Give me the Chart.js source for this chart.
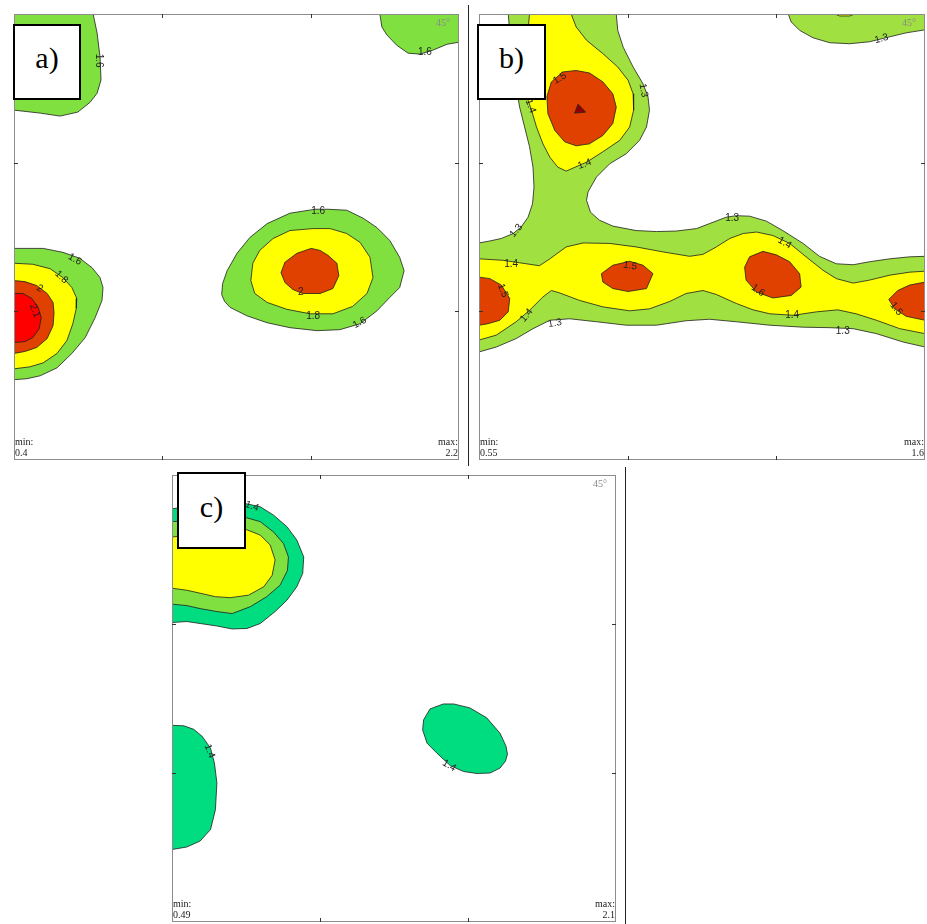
<!DOCTYPE html>
<html>
<head>
<meta charset="utf-8">
<script src="https://cdn.jsdelivr.net/npm/chart.js@4.4.0/dist/chart.umd.min.js"></script>
<style>
  body { margin: 0; background: #fff; }
  #wrap { position: relative; width: 927px; height: 924px; overflow: hidden; }
  canvas { position: absolute; }
  .tag { position: absolute; box-sizing: border-box; border: 2px solid #000; background: #fff;
         font-family: "Liberation Serif", "DejaVu Serif", serif; font-size: 30px; color: #000;
         display: flex; align-items: center; justify-content: center; padding-bottom: 8px; }
  .sep { position: absolute; background: #222; width: 1px; }
</style>
</head>
<body>
<div id="wrap">
  <canvas id="pa" width="469" height="462" style="left:0;top:0"></canvas>
  <canvas id="pb" width="457" height="462" style="left:470px;top:0"></canvas>
  <canvas id="pc" width="466" height="462" style="left:160px;top:462px"></canvas>
  <div class="sep" style="left:468px;top:5px;height:461px"></div>
  <div class="sep" style="left:625px;top:467px;height:457px"></div>
  <div class="tag" style="left:13px;top:24px;width:68px;height:76px">a)</div>
  <div class="tag" style="left:477px;top:24px;width:69px;height:76px">b)</div>
  <div class="tag" style="left:177px;top:472px;width:69px;height:77px">c)</div>
</div>
<script>
// ODF section, phi2 = 45 deg; x = phi1 (0..90), y = Phi (0..90, downwards)
const axisTicks = [30, 60];

// ---- panel a (min 0.4, max 2.2) ----
const aTopLeft16 = [[0,0],[16.0,0],[16.8,3.8],[17.4,8.7],[17.6,13.3],[16.8,16.0],[15.4,17.8],[12.9,19.8],[9.3,20.6],[5.3,20.0],[0,19.4]];
const aTopRight16 = [[74.0,0],[74.4,2.6],[75.4,4.2],[77.4,6.3],[79.7,7.9],[82.1,8.1],[84.7,7.3],[87.6,6.1],[90,5.7],[90,0]];
const aLeft16 = [[0,47.3],[5.9,47.3],[9.9,48.1],[13.3,49.3],[15.8,51.2],[17.4,53.2],[18.0,55.2],[17.8,57.8],[16.4,61.3],[14.4,65.3],[11.7,68.5],[8.7,71.4],[5.3,73.0],[2.6,73.6],[0,73.8]];
const aLeft18 = [[0,50.3],[3.8,50.5],[7.3,51.4],[9.9,53.2],[11.7,55.2],[12.7,57.4],[12.6,59.4],[11.9,62.5],[10.7,65.9],[8.7,68.5],[5.9,70.4],[3.2,71.2],[0,71.6]];
const aLeft20 = [[0,53.8],[2.2,54.0],[4.6,54.8],[6.7,56.4],[7.9,58.2],[8.1,60.3],[7.9,62.9],[6.7,65.5],[4.6,67.3],[2.2,68.1],[0,68.5]];
const aLeft21 = [[0,56.4],[1.8,56.4],[3.6,57.4],[4.9,59.2],[5.5,61.3],[5.1,63.5],[3.8,65.3],[2.2,66.1],[0,66.3]];
const aMid16 = [[60.9,39.4],[55.8,40.2],[51.2,42.3],[47.7,45.1],[45.1,48.3],[43.1,51.8],[42.2,54.4],[42.0,56.6],[42.6,58.0],[43.7,59.2],[47.1,60.9],[51.2,62.3],[55.8,63.3],[61.3,63.9],[65.9,63.7],[70.0,62.5],[73.4,59.9],[76.0,57.2],[78.0,55.2],[78.9,51.8],[78.0,49.1],[76.0,45.7],[73.4,43.1],[70.6,41.2],[67.3,39.6],[63.5,39.4]];
const aMid18 = [[60.5,43.3],[55.8,43.7],[52.4,45.3],[49.7,47.7],[48.3,50.3],[47.9,53.8],[48.7,56.4],[51.2,58.2],[55.2,59.6],[59.9,60.5],[64.5,60.5],[68.5,59.0],[71.4,56.4],[72.6,53.2],[72.0,49.1],[70.0,46.1],[67.3,44.3],[63.9,43.3]];
const aMid20 = [[60.1,47.3],[57.2,48.3],[54.8,50.1],[54.0,52.2],[54.8,54.2],[56.4,55.6],[58.4,56.4],[61.9,56.4],[64.5,55.4],[65.7,52.8],[65.3,50.3],[63.5,48.7],[61.9,47.7]];
const aLabels = [["1.6",17.1,9.4,90],["1.6",83.1,7.8,0],["1.6",61.5,39.9,0],["1.6",69.9,62.3,-30],["1.8",60.5,60.9,0],["2",58.0,56.2,0],["1.6",12.3,49.5,30],["1.8",9.6,53.1,45],["2",5.2,55.4,30],["2.1",4.2,59.9,70]];

// ---- panel b (min 0.55, max 1.6) ----
const bMain13 = [[27.7,0],[28.0,3.3],[29.1,6.7],[31.1,10.7],[33.1,14.1],[34.1,16.7],[34.4,19.4],[33.8,22.8],[32.4,25.5],[29.7,28.2],[26.4,30.2],[23.7,32.9],[22.0,35.9],[21.7,37.6],[22.5,40.0],[24.3,41.6],[27.0,42.8],[31.7,43.7],[35.8,43.9],[39.8,43.8],[43.9,43.3],[46.5,42.3],[49.9,41.0],[51.9,40.7],[54.6,40.8],[58.0,41.8],[61.3,43.7],[65.4,46.3],[68.7,48.9],[72.1,50.4],[75.5,50.6],[78.8,50.0],[82.9,49.4],[86.9,49.0],[90,48.9],[90,67.2],[85.6,66.2],[80.2,64.5],[75.5,63.5],[70.8,63.3],[65.4,63.2],[58.7,62.8],[51.9,62.1],[46.5,61.6],[41.8,61.9],[35.8,62.8],[29.7,62.8],[23.7,62.1],[18.3,61.5],[14.3,61.8],[10.9,63.5],[7.5,65.5],[3.5,67.2],[0,68.2],[0,46.2],[2.2,45.8],[4.5,45.3],[6.9,44.3],[8.5,43.0],[9.9,41.0],[10.8,38.3],[11.1,34.9],[10.9,30.9],[10.2,26.8],[9.2,22.8],[8.2,18.8],[7.5,14.7],[6.5,7.3],[5.9,0]];
const bArm14 = [[18.6,0],[19.6,2.6],[21.7,5.3],[25.0,8.0],[28.0,10.7],[30.1,13.4],[31.1,16.1],[31.2,19.4],[30.4,22.8],[28.4,25.5],[25.0,27.8],[21.7,29.9],[17.6,31.7],[15.9,30.9],[14.3,28.9],[12.9,26.2],[11.6,22.8],[10.6,19.4],[9.9,17.4],[9.2,10.7],[10.2,0]];
const bArm15 = [[19.6,11.4],[16.9,11.7],[14.6,13.7],[13.7,16.7],[13.9,20.1],[15.3,23.5],[17.3,25.8],[19.6,26.6],[22.3,26.2],[25.0,24.5],[27.0,22.1],[27.7,18.8],[27.0,16.1],[25.0,13.7],[22.3,11.9]];
const bArmPeak = [[20.0,18.2],[19.3,20.0],[21.5,19.8]];
const bBand14 = [[0,49.4],[4.8,49.7],[8.2,50.2],[12.2,50.8],[14.3,49.4],[17.6,47.0],[21.0,46.2],[26.4,46.3],[31.7,47.0],[37.1,48.0],[42.5,48.9],[45.2,48.5],[47.9,47.0],[50.6,45.3],[53.3,44.3],[56.0,44.0],[59.3,44.7],[62.7,46.3],[66.0,49.0],[69.4,51.7],[72.1,53.4],[75.5,54.3],[78.8,53.7],[82.9,52.7],[86.9,52.1],[90,51.9],[90,64.5],[84.9,63.5],[80.2,61.8],[76.1,60.5],[72.4,59.7],[68.1,60.1],[63.4,60.8],[58.7,60.5],[55.3,59.7],[51.9,58.4],[47.9,56.6],[45.2,55.8],[41.8,56.4],[38.5,58.0],[34.4,59.5],[30.4,59.9],[25.0,59.1],[20.3,57.8],[16.3,56.3],[14.6,55.8],[12.9,57.1],[10.2,59.8],[7.5,62.1],[3.5,64.8],[0,65.8]];
const bBandLeft15 = [[0,53.1],[2.2,53.4],[4.5,54.7],[6.2,57.4],[5.9,60.1],[4.2,61.8],[1.8,62.5],[0,62.8]];
const bBandMidL15 = [[30.4,49.9],[27.0,50.7],[24.7,52.4],[25.0,54.1],[27.0,55.4],[30.1,56.0],[33.8,55.4],[35.1,52.4],[33.1,50.7]];
const bBandMidR15 = [[57.3,47.9],[54.6,49.0],[53.6,51.1],[53.9,53.7],[56.0,56.1],[59.3,57.3],[63.0,56.8],[65.0,55.1],[64.7,52.4],[62.7,50.0],[60.0,48.6]];
const bBandRight15 = [[90,54.1],[86.9,54.7],[84.5,55.8],[82.7,57.6],[83.9,59.5],[86.2,61.0],[90,61.8]];
const bTopRight13 = [[62.4,0],[63.0,1.6],[64.7,3.3],[67.4,4.8],[70.8,5.8],[74.8,6.0],[78.8,5.6],[82.9,4.6],[86.2,3.8],[90,3.2],[90,0]];
const bTopRight14 = [[71.8,0],[72.8,0.4],[74.8,0.4],[75.8,0]];
const bLabels = [["1.5",16.3,13.0,-30],["1.4",10.4,18.6,70],["1.3",33.2,15.4,80],["1.4",21.3,30.3,-20],["1.3",7.5,43.7,-50],["1.3",51.1,41.3,0],["1.4",61.7,46.2,30],["1.4",6.5,50.4,0],["1.5",30.5,50.8,10],["1.5",4.8,55.8,70],["1.6",56.3,55.8,35],["1.3",15.3,62.4,-10],["1.4",9.6,60.8,-50],["1.4",63.2,60.8,0],["1.3",73.4,64.0,0],["1.5",84.2,59.5,50],["1.3",81.2,5.0,-15]];

// ---- panel c (min 0.49, max 2.1) ----
const cTop14 = [[0,6.8],[7.8,5.8],[15.1,5.8],[17.9,6.4],[20.6,8.1],[23.3,10.4],[25.3,13.1],[26.7,16.5],[26.5,19.8],[25.3,22.5],[23.3,25.2],[20.9,27.5],[17.9,29.9],[15.2,30.9],[12.2,31.0],[9.1,30.4],[5.7,29.9],[3.0,29.5],[0,29.7]];
const cTop16 = [[0,9.4],[7.8,8.8],[15.1,8.6],[17.9,9.4],[20.6,11.5],[22.6,13.8],[23.6,16.5],[23.4,19.2],[21.9,22.2],[19.2,24.5],[15.9,26.5],[12.2,27.9],[9.1,27.5],[5.7,26.9],[3.0,26.3],[0,26.0]];
const cTop18 = [[0,12.5],[7.8,11.5],[15.1,11.0],[17.9,12.1],[19.9,14.1],[20.9,17.1],[20.3,20.2],[18.6,22.5],[15.5,24.2],[11.8,24.7],[8.8,24.5],[5.7,23.8],[3.0,23.2],[0,22.8]];
const cLeft14 = [[0,50.4],[2.4,50.5],[4.4,51.2],[6.1,52.6],[7.8,55.0],[8.6,58.0],[9.1,62.0],[8.8,67.4],[7.8,71.4],[5.7,73.7],[3.0,74.9],[0,75.4]];
const cMid14 = [[55.0,46.1],[57.1,46.1],[60.4,46.9],[63.8,48.9],[66.5,52.0],[67.7,54.6],[68.0,56.2],[67.6,57.6],[66.5,59.0],[64.5,60.0],[61.8,60.1],[59.1,59.7],[56.4,58.5],[53.7,56.0],[51.7,54.0],[50.8,51.3],[51.0,49.3],[52.3,47.1]];
const cLabels = [["1.4",16.2,6.3,20],["1.4",7.6,55.6,70],["1.4",56.2,58.5,30]];

const GREEN_A = "#80e040", GREEN_B = "#a0e040", TEAL = "#00dd80";
const YELLOW = "#ffff00", ORANGE = "#e04000", RED = "#ff0000", DARK = "#900000";

function poly(pts, color, order) {
  const data = pts.map(p => ({ x: p[0], y: p[1] }));
  data.push({ x: pts[0][0], y: pts[0][1] });
  return {
    data: data, showLine: true, fill: "shape", backgroundColor: color,
    borderColor: "#1e1e1e", borderWidth: 0.8, borderJoinStyle: "round",
    pointRadius: 0, tension: 0, order: order
  };
}

const framePlugin = {
  id: "frame",
  afterDatasetsDraw(chart, args, opts) {
    const ctx = chart.ctx, a = chart.chartArea, sx = chart.scales.x, sy = chart.scales.y;
    ctx.save();
    // contour labels
    ctx.fillStyle = "#222";
    ctx.font = '10px "Liberation Sans", Arial, sans-serif';
    ctx.textAlign = "center";
    ctx.textBaseline = "middle";
    opts.labels.forEach(l => {
      ctx.save();
      ctx.translate(sx.getPixelForValue(l[1]), sy.getPixelForValue(l[2]));
      ctx.rotate(l[3] * Math.PI / 180);
      ctx.fillText(l[0], 0, 0);
      ctx.restore();
    });
    // frame
    ctx.strokeStyle = "#8c8c8c";
    ctx.lineWidth = 1;
    ctx.strokeRect(a.left + 0.5, a.top + 0.5, a.right - a.left - 1, a.bottom - a.top - 1);
    ctx.strokeStyle = "#333";
    ctx.beginPath();
    axisTicks.forEach(t => {
      const px = Math.round(sx.getPixelForValue(t)) + 0.5;
      const py = Math.round(sy.getPixelForValue(t)) + 0.5;
      ctx.moveTo(px, a.top); ctx.lineTo(px, a.top + 4);
      ctx.moveTo(px, a.bottom); ctx.lineTo(px, a.bottom - 4);
      ctx.moveTo(a.left, py); ctx.lineTo(a.left + 4, py);
      ctx.moveTo(a.right, py); ctx.lineTo(a.right - 4, py);
    });
    ctx.stroke();
    // section angle and range
    ctx.font = '10px "Liberation Serif", "Times New Roman", serif';
    ctx.textBaseline = "alphabetic";
    ctx.fillStyle = "#8a8a8a";
    ctx.textAlign = "right";
    ctx.fillText("45°", a.right - 9, a.top + 12);
    ctx.fillStyle = "#222";
    ctx.textAlign = "left";
    ctx.fillText("min:", a.left + 1, a.bottom - 15);
    ctx.fillText(opts.min, a.left + 1, a.bottom - 4);
    ctx.textAlign = "right";
    ctx.fillText("max:", a.right - 1, a.bottom - 15);
    ctx.fillText(opts.max, a.right - 1, a.bottom - 4);
    ctx.restore();
  }
};

function makeChart(id, datasets, pad, labels, min, max) {
  return new Chart(document.getElementById(id), {
    type: "scatter",
    data: { datasets: datasets },
    options: {
      responsive: false,
      animation: false,
      devicePixelRatio: 1,
      layout: { padding: pad },
      scales: {
        x: { type: "linear", min: 0, max: 90, display: false },
        y: { type: "linear", min: 0, max: 90, reverse: true, display: false }
      },
      plugins: {
        legend: { display: false },
        tooltip: { enabled: false },
        frame: { labels: labels, min: min, max: max }
      }
    },
    plugins: [framePlugin]
  });
}

makeChart("pa", [
  poly(aTopLeft16, GREEN_A, 4), poly(aTopRight16, GREEN_A, 4),
  poly(aLeft16, GREEN_A, 4), poly(aLeft18, YELLOW, 3), poly(aLeft20, ORANGE, 2), poly(aLeft21, RED, 1),
  poly(aMid16, GREEN_A, 4), poly(aMid18, YELLOW, 3), poly(aMid20, ORANGE, 2)
], { left: 14, top: 14, right: 10, bottom: 2 }, aLabels, "0.4", "2.2");

makeChart("pb", [
  poly(bMain13, GREEN_B, 4), poly(bTopRight13, GREEN_B, 4), poly(bTopRight14, YELLOW, 3),
  poly(bArm14, YELLOW, 3), poly(bBand14, YELLOW, 3),
  poly(bArm15, ORANGE, 2), poly(bBandLeft15, ORANGE, 2), poly(bBandMidL15, ORANGE, 2),
  poly(bBandMidR15, ORANGE, 2), poly(bBandRight15, ORANGE, 2),
  poly(bArmPeak, DARK, 1)
], { left: 9, top: 14, right: 2, bottom: 2 }, bLabels, "0.55", "1.6");

makeChart("pc", [
  poly(cTop14, TEAL, 4), poly(cTop16, GREEN_A, 3), poly(cTop18, YELLOW, 2),
  poly(cLeft14, TEAL, 4), poly(cMid14, TEAL, 4)
], { left: 12, top: 13, right: 10, bottom: 2 }, cLabels, "0.49", "2.1");
</script>
</body>
</html>
